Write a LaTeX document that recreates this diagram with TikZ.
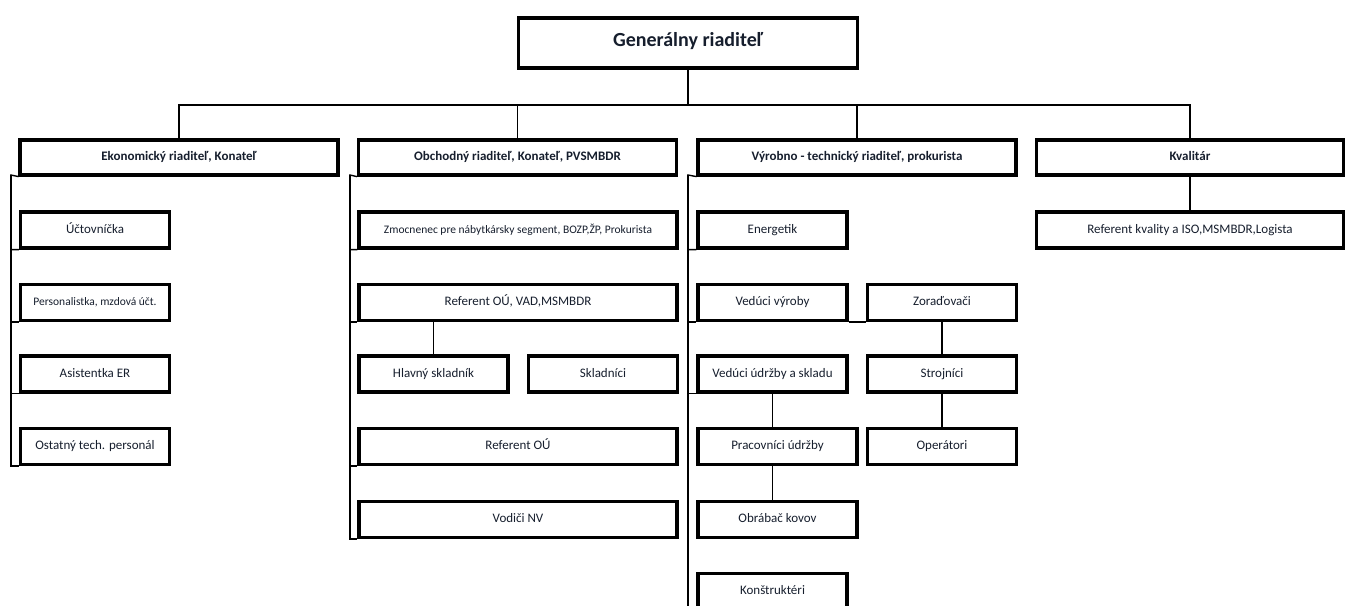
\documentclass[tikz,border=0pt]{standalone}
\usepackage{fontspec}
\setmainfont{Carlito}
\definecolor{inkblue}{RGB}{22,30,45}

\begin{document}
\begin{tikzpicture}[x=1pt,y=-1pt,
  every node/.style={draw,line width=3.2pt,inner sep=2pt,text=inkblue,text height=0.82em,text depth=0.14em},
  chief/.style={minimum width=339pt,minimum height=50pt,font=\fontsize{20}{24}\selectfont\bfseries},
  head/.style={minimum width=318pt,minimum height=35pt,font=\fontsize{13}{15}\selectfont\bfseries},
  unit/.style={minimum width=149pt,minimum height=36pt,font=\fontsize{13}{16}\selectfont},
  wide/.style={unit,minimum width=318pt},
  mid/.style={unit,minimum width=159pt},
  smalltext/.style={font=\fontsize{11.5}{14}\selectfont},
  link/.style={line width=1.4pt}]
\clip (0,0) rectangle (1349,605);

\node[chief](gr) at (688, 43) {Generálny riaditeľ};

\node[head](ekon) at (179, 157.5) {Ekonomický riaditeľ, Konateľ};
\node[head](obch) at (517.5, 157.5) {Obchodný riaditeľ, Konateľ, PVSMBDR};
\node[head](vyr) at (857, 157.5) {Výrobno - technický riaditeľ, prokurista};
\node[head,minimum width=307pt](kval) at (1190, 157.5) {Kvalitár};

\node[unit](uct) at (95, 230) {Účtovníčka};
\node[unit,smalltext](pers) at (95, 302.5) {Personalistka, mzdová účt.};
\node[unit](asis) at (95, 374) {Asistentka ER};
\node[unit](ost) at (95, 446.5) {Ostatný tech. personál};

\node[wide,smalltext](zmoc) at (518, 230) {Zmocnenec pre nábytkársky segment, BOZP,ŽP, Prokurista};
\node[wide](refv) at (518, 302.5) {Referent OÚ, VAD,MSMBDR};
\node[unit](hsk) at (433.5, 374) {Hlavný skladník};
\node[unit](skl) at (603, 374) {Skladníci};
\node[wide](refo) at (518, 446.5) {Referent OÚ};
\node[wide](vod) at (518, 519.5) {Vodiči NV};

\node[unit](ener) at (772.5, 230) {Energetik};
\node[unit](vv) at (772.5, 302.5) {Vedúci výroby};
\node[unit](zor) at (942, 302.5) {Zoraďovači};
\node[unit](vud) at (772.5, 374) {Vedúci údržby a skladu};
\node[unit](stroj) at (942, 374) {Strojníci};
\node[mid](pu) at (777.5, 446.5) {Pracovníci údržby};
\node[unit](oper) at (942, 446.5) {Operátori};
\node[mid](obr) at (777.5, 519.5) {Obrábač kovov};
\node[unit](kon) at (772.5, 591.5) {Konštruktéri};

\node[wide,minimum width=307pt](refk) at (1190, 230) {Referent kvality a ISO,MSMBDR,Logista};

\coordinate (bus) at (688, 105);
\coordinate (ekrail) at (11, 175);
\coordinate (obrail) at (350, 175);
\coordinate (vyrail) at (688, 175);
\coordinate (vyend) at (688, 612);

% top level
\draw[link] (gr.south)--(bus);
\draw[link] (ekon.north)|-(bus); \draw[link] (obch.north)|-(bus); \draw[link] (vyr.north)|-(bus); \draw[link] (kval.north)|-(bus);

% rails
\draw[link] (ekon.south west)--(ekrail)|-(uct.south west); \draw[link] (ekrail)|-(pers.south west);
\draw[link] (ekrail)|-(asis.south west); \draw[link] (ekrail)|-(ost.south west);
\draw[link] (obch.south west)--(obrail)|-(zmoc.south west); \draw[link] (obrail)|-(refv.south west);
\draw[link] (obrail)|-(refo.south west); \draw[link] (obrail)|-(vod.south west);
\draw[link] (vyr.south west)--(vyrail)|-(ener.south west); \draw[link] (vyrail)|-(vv.south west);
\draw[link] (vyrail)|-(vud.south west); \draw[link] (vyrail)--(vyend);

% branches
\draw[link] (refv.south -| hsk)--(hsk.north);
\draw[link] (vv.south east)--(zor.south west);
\draw[link] (zor.south)--(stroj.north); \draw[link] (stroj.south)--(oper.north);
\draw[link] (vud.south)--(vud.south |- pu.north); \draw[link] (vud.south |- pu.south)--(vud.south |- obr.north);
\draw[link] (kval.south)--(refk.north);
\end{tikzpicture}
\end{document}
